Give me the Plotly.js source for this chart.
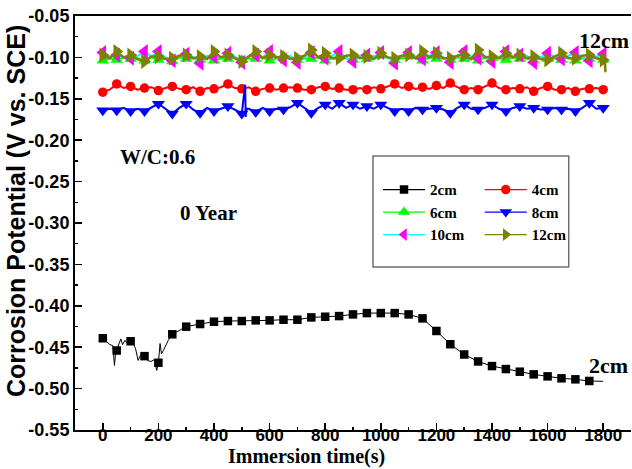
<!DOCTYPE html>
<html>
<head>
<meta charset="utf-8">
<script src="https://cdn.plot.ly/plotly-3.0.1.min.js"></script>
<style>html,body{margin:0;padding:0;background:#fff;}#chart{width:632px;height:469px;}</style>
</head>
<body>
<div id="chart"></div>
<script>
// ---- data ----
const seriesNames = ["2cm", "4cm", "6cm", "8cm", "10cm", "12cm"];

// 2cm: line points (noisy start) ; markers are the points at multiples of 50 s up to 1750 s
const time2cm = [0,26,36,42,46,50,58,65,71,80,88,100,110,118,127,135,150,161,173,185,194,200,206,211,218,235,250,
  300,350,400,450,500,550,600,650,700,750,800,850,900,950,1000,1050,1100,1150,1200,1250,1300,1350,1400,1450,1500,1550,1600,1650,1700,1750,1800];
const pot2cm = [-0.4392,-0.447,-0.448,-0.472,-0.456,-0.454,-0.446,-0.440,-0.447,-0.4416,-0.4455,-0.4428,-0.4455,-0.452,-0.466,-0.460,-0.4608,-0.466,-0.4673,-0.465,-0.478,-0.4688,-0.4455,-0.458,-0.454,-0.442,-0.4344,
  -0.4252,-0.422,-0.4192,-0.4184,-0.4184,-0.4176,-0.4176,-0.4168,-0.4168,-0.414,-0.4132,-0.4124,-0.4104,-0.4088,-0.4088,-0.4088,-0.4104,-0.4152,-0.4304,-0.4464,-0.4588,-0.4672,-0.4728,-0.4764,-0.4796,-0.4828,-0.4852,-0.4876,-0.4888,-0.4908,-0.4912];

// 4cm .. 12cm: values every 25 s (markers at multiples of 50 s)
const time25 = [0,25,50,75,100,125,150,175,200,225,250,275,300,325,350,375,400,425,450,475,500,525,550,575,600,625,650,675,700,725,750,775,800,825,850,875,900,925,950,975,1000,1025,1050,1075,1100,1125,1150,1175,1200,1225,1250,1275,1300,1325,1350,1375,1400,1425,1450,1475,1500,1525,1550,1575,1600,1625,1650,1675,1700,1725,1750,1775,1800];

const pot4cm = [-0.142,-0.139,-0.132,-0.137,-0.135,-0.139,-0.137,-0.136,-0.140,-0.137,-0.135,-0.138,-0.139,-0.136,-0.141,-0.137,-0.138,-0.136,-0.132,-0.137,-0.138,-0.136,-0.141,-0.138,-0.137,-0.139,-0.137,-0.136,-0.137,-0.139,-0.139,-0.136,-0.135,-0.138,-0.137,-0.139,-0.139,-0.137,-0.139,-0.136,-0.138,-0.135,-0.132,-0.137,-0.135,-0.138,-0.136,-0.138,-0.134,-0.137,-0.131,-0.136,-0.139,-0.137,-0.139,-0.135,-0.131,-0.137,-0.139,-0.137,-0.138,-0.136,-0.141,-0.137,-0.135,-0.139,-0.139,-0.137,-0.141,-0.138,-0.138,-0.137,-0.139];

const pot6cm = [-0.104,-0.101,-0.103,-0.100,-0.102,-0.101,-0.104,-0.100,-0.103,-0.101,-0.105,-0.100,-0.102,-0.101,-0.103,-0.100,-0.104,-0.101,-0.102,-0.100,-0.103,-0.101,-0.102,-0.100,-0.104,-0.101,-0.098,-0.100,-0.103,-0.101,-0.102,-0.100,-0.104,-0.101,-0.099,-0.101,-0.103,-0.100,-0.102,-0.101,-0.098,-0.100,-0.103,-0.101,-0.099,-0.101,-0.104,-0.100,-0.102,-0.101,-0.103,-0.100,-0.102,-0.101,-0.104,-0.100,-0.101,-0.101,-0.103,-0.100,-0.102,-0.101,-0.104,-0.100,-0.102,-0.101,-0.103,-0.100,-0.104,-0.101,-0.102,-0.100,-0.103];

const pot8cm = [-0.164,-0.162,-0.164,-0.161,-0.165,-0.162,-0.165,-0.161,-0.156,-0.162,-0.168,-0.161,-0.156,-0.163,-0.167,-0.161,-0.165,-0.162,-0.159,-0.163,-0.168,-0.162,-0.166,-0.161,-0.165,-0.162,-0.163,-0.160,-0.155,-0.161,-0.167,-0.161,-0.157,-0.162,-0.155,-0.161,-0.157,-0.162,-0.159,-0.162,-0.157,-0.161,-0.165,-0.162,-0.165,-0.161,-0.163,-0.162,-0.161,-0.163,-0.167,-0.161,-0.157,-0.162,-0.163,-0.161,-0.157,-0.162,-0.165,-0.161,-0.159,-0.162,-0.161,-0.163,-0.163,-0.161,-0.163,-0.162,-0.165,-0.161,-0.155,-0.162,-0.161];
const spikeTime8cm = [512, 514, 517];
const spikePot8cm = [-0.133, -0.172, -0.162];

const pot10cm = [-0.094,-0.099,-0.097,-0.100,-0.101,-0.098,-0.093,-0.099,-0.093,-0.100,-0.104,-0.098,-0.096,-0.100,-0.107,-0.098,-0.099,-0.100,-0.095,-0.099,-0.106,-0.098,-0.097,-0.100,-0.093,-0.099,-0.103,-0.098,-0.106,-0.100,-0.094,-0.099,-0.101,-0.098,-0.093,-0.100,-0.105,-0.098,-0.097,-0.099,-0.094,-0.100,-0.107,-0.098,-0.094,-0.099,-0.102,-0.098,-0.094,-0.100,-0.106,-0.098,-0.093,-0.099,-0.101,-0.098,-0.105,-0.100,-0.093,-0.099,-0.097,-0.098,-0.106,-0.100,-0.095,-0.099,-0.102,-0.098,-0.094,-0.100,-0.104,-0.099,-0.096];

const pot12cm = [-0.097,-0.101,-0.093,-0.100,-0.097,-0.102,-0.105,-0.099,-0.099,-0.102,-0.101,-0.098,-0.097,-0.101,-0.099,-0.102,-0.093,-0.100,-0.097,-0.101,-0.105,-0.099,-0.093,-0.101,-0.097,-0.100,-0.099,-0.102,-0.101,-0.098,-0.091,-0.100,-0.095,-0.101,-0.101,-0.098,-0.097,-0.101,-0.099,-0.102,-0.095,-0.100,-0.101,-0.098,-0.097,-0.101,-0.093,-0.100,-0.095,-0.101,-0.101,-0.098,-0.097,-0.102,-0.091,-0.100,-0.099,-0.101,-0.095,-0.100,-0.097,-0.101,-0.099,-0.102,-0.103,-0.099,-0.095,-0.101,-0.101,-0.098,-0.097,-0.101,-0.103];
const spikeTime12cm = [1805, 1808];
const spikePot12cm = [-0.094, -0.118];

const yTickVals = [-0.55,-0.50,-0.45,-0.40,-0.35,-0.30,-0.25,-0.20,-0.15,-0.10,-0.05];
const yTickText = ["-0.55","-0.50","-0.45","-0.40","-0.35","-0.30","-0.25","-0.20","-0.15","-0.10","-0.05"];
const xTickVals = [0,200,400,600,800,1000,1200,1400,1600,1800];

// ---- styles ----
const styles = {
  "2cm":  {line: "#000000", marker: "#000000", symbol: "square",         size: 8.5, lw: 1},
  "4cm":  {line: "#ff0000", marker: "#ff0000", symbol: "circle",         size: 9.5, lw: 2},
  "6cm":  {line: "#00ff00", marker: "#00ff00", symbol: "triangle-up",    size: 11, lw: 2},
  "8cm":  {line: "#0000ff", marker: "#0000ff", symbol: "triangle-down",  size: 11.5, lw: 2},
  "10cm": {line: "#00ffff", marker: "#ff00ff", symbol: "triangle-left",  size: 13, lw: 2},
  "12cm": {line: "#808000", marker: "#808000", symbol: "triangle-right", size: 13, lw: 2.5}
};

function mergeSorted(t, v, et, ev) {
  const pts = t.map((x, i) => [x, v[i]]);
  (et || []).forEach((x, i) => pts.push([x, ev[i]]));
  pts.sort((a, b) => a[0] - b[0]);
  return {x: pts.map(p => p[0]), y: pts.map(p => p[1])};
}
function markerSubset(t, v, maxT) {
  const x = [], y = [];
  t.forEach((tt, i) => { if (tt % 50 === 0 && tt <= maxT) { x.push(tt); y.push(v[i]); } });
  return {x, y};
}

const seriesData = {
  "2cm":  {line: mergeSorted(time2cm, pot2cm), mk: markerSubset(time2cm, pot2cm, 1750)},
  "4cm":  {line: mergeSorted(time25, pot4cm), mk: markerSubset(time25, pot4cm, 1800)},
  "6cm":  {line: mergeSorted(time25, pot6cm), mk: markerSubset(time25, pot6cm, 1800)},
  "8cm":  {line: mergeSorted(time25, pot8cm, spikeTime8cm, spikePot8cm), mk: markerSubset(time25, pot8cm, 1800)},
  "10cm": {line: mergeSorted(time25, pot10cm), mk: markerSubset(time25, pot10cm, 1800)},
  "12cm": {line: mergeSorted(time25, pot12cm, spikeTime12cm, spikePot12cm), mk: markerSubset(time25, pot12cm, 1800)}
};

const legendOf = {"2cm": "legend", "6cm": "legend", "10cm": "legend", "4cm": "legend2", "8cm": "legend2", "12cm": "legend2"};

const traces = [];
seriesNames.forEach(name => {
  const s = styles[name], d = seriesData[name];
  traces.push({x: d.line.x, y: d.line.y, mode: "lines", type: "scatter", showlegend: false,
    line: {color: s.line, width: s.lw}, hoverinfo: "skip"});
  traces.push({x: d.mk.x, y: d.mk.y, mode: "markers", type: "scatter", showlegend: false,
    marker: {symbol: s.symbol, size: s.size, color: s.marker, line: {width: 0}}});
});
// legend entries (line + marker)
["2cm", "6cm", "10cm", "4cm", "8cm", "12cm"].forEach(name => {
  const s = styles[name];
  traces.push({x: [null], y: [null], mode: "lines+markers", type: "scatter", name: name,
    legend: legendOf[name], showlegend: true,
    line: {color: s.line, width: 1.3},
    marker: {symbol: s.symbol, size: Math.min(s.size, 11), color: s.marker, line: {width: 0}}});
});

const serifBold = {family: "Liberation Serif, Times New Roman, serif", weight: "bold", color: "#000"};
const sansBold = {family: "Liberation Sans, Arial, sans-serif", weight: "bold", color: "#000"};

const legendCommon = {
  xanchor: "left", yanchor: "top", bgcolor: "rgba(0,0,0,0)", borderwidth: 0,
  font: Object.assign({size: 15}, serifBold), itemwidth: 42, tracegroupgap: 0
};

const layout = {
  width: 632, height: 469,
  margin: {l: 75, r: 1, t: 16, b: 39, pad: 0},
  paper_bgcolor: "#fff", plot_bgcolor: "#fff",
  showlegend: true,
  legend: Object.assign({x: 0.545, y: 0.62}, legendCommon),
  legend2: Object.assign({x: 0.728, y: 0.62}, legendCommon),
  xaxis: {
    range: [-100, 1900], tickmode: "array", tickvals: xTickVals,
    ticks: "inside", ticklen: 7, tickwidth: 1.5, tickcolor: "#000", ticklabelstandoff: -11,
    minor: {tickmode: "linear", tick0: 0, dtick: 100, ticks: "inside", ticklen: 3, tickwidth: 1.5, tickcolor: "#000"},
    showline: true, linecolor: "#000", linewidth: 2, mirror: true,
    showgrid: false, zeroline: false,
    tickfont: Object.assign({size: 17}, sansBold)
  },
  yaxis: {
    range: [-0.55, -0.05], tickmode: "array", tickvals: yTickVals, ticktext: yTickText,
    ticks: "inside", ticklen: 7, tickwidth: 1.5, tickcolor: "#000",
    minor: {tickmode: "linear", tick0: -0.05, dtick: 0.025, ticks: "inside", ticklen: 3, tickwidth: 1.5, tickcolor: "#000"},
    showline: true, linecolor: "#000", linewidth: 2, mirror: false,
    showgrid: false, zeroline: false,
    tickfont: Object.assign({size: 18}, sansBold)
  },
  shapes: [
    {type: "rect", xref: "paper", yref: "paper", x0: 0.536, x1: 0.888, y0: 0.394, y1: 0.662,
     line: {color: "#707070", width: 1.5}, fillcolor: "rgba(0,0,0,0)"}
  ],
  annotations: [
    {text: "Corrosion Potential (V vs. SCE)", xref: "paper", yref: "paper", x: -0.106, y: 0.529,
     xanchor: "center", yanchor: "middle", textangle: -90, showarrow: false, font: Object.assign({size: 25}, sansBold)},
    {text: "Immersion time(s)", xref: "paper", yref: "paper", x: 0.4155, y: -0.0942,
     xanchor: "center", yanchor: "bottom", showarrow: false, borderpad: 0, font: Object.assign({size: 20}, serifBold)},
    {text: "W/C:0.6", xref: "paper", yref: "paper", x: 0.0773, y: 0.659,
     xanchor: "left", yanchor: "middle", showarrow: false, font: Object.assign({size: 21}, serifBold)},
    {text: "0 Year", xref: "paper", yref: "paper", x: 0.185, y: 0.524,
     xanchor: "left", yanchor: "middle", showarrow: false, font: Object.assign({size: 21}, serifBold)},
    {text: "12cm", xref: "paper", yref: "paper", x: 1.0, y: 0.942,
     xanchor: "right", yanchor: "middle", showarrow: false, font: Object.assign({size: 22}, serifBold)},
    {text: "2cm", xref: "paper", yref: "paper", x: 0.9985, y: 0.157,
     xanchor: "right", yanchor: "middle", showarrow: false, font: Object.assign({size: 22}, serifBold)}
  ]
};

Plotly.newPlot("chart", traces, layout, {displayModeBar: false, staticPlot: true});
</script>
</body>
</html>
